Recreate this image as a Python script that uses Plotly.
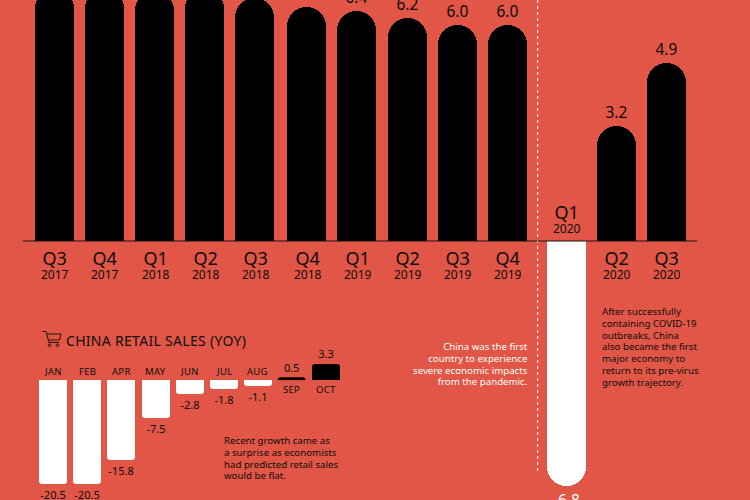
import plotly.graph_objects as go

W, H = 750, 500
BG = "#E15646"
INK = "#0d0d0d"
FONT = "Noto Sans"

# GDP growth, quarterly
quarters = ["Q3", "Q4", "Q1", "Q2", "Q3", "Q4", "Q1", "Q2", "Q3", "Q4", "Q1", "Q2", "Q3"]
years = ["2017", "2017", "2018", "2018", "2018", "2018", "2019", "2019", "2019", "2019", "2020", "2020", "2020"]
gdp = [7.0, 7.0, 6.95, 7.0, 6.75, 6.5, 6.4, 6.2, 6.0, 6.0, -6.8, 3.2, 4.95]
# Labels of the bars that run off the top of the page are not in the picture
gdp_labels = ["", "", "", "", "", "", "6.4", "6.2", "6.0", "6.0", "-6.8", "3.2", "4.9"]

# Retail sales, monthly
months = ["JAN", "FEB", "APR", "MAY", "JUN", "JUL", "AUG", "SEP", "OCT"]
retail = [-20.5, -20.5, -15.8, -7.5, -2.8, -1.8, -1.1, 0.5, 3.3]

title = "CHINA RETAIL SALES (YOY)"
note_left = ["China was the first", "country to experience", "severe economic impacts", "from the pandemic."]
note_right = ["After successfully", "containing COVID-19", "outbreaks, China", "also became the first",
              "major economy to", "return to its pre-virus", "growth trajectory."]
note_retail = ["Recent growth came as", "a surprise as economists", "had predicted retail sales", "would be flat."]

# layout helpers (pixel geometry of the page)
def px(x): return x / W
def py(y): return 1 - y / H

STEP, X0 = 50.1, 54.3
BASE, UNIT = 241, 36
STEP2, X02 = 34.07, 53.3
BASE2, UNIT2 = 380.3, 5.05
LINE = 11.75

# slots: the bars fall in three evenly spaced runs with small gaps between them
slots = [i + (0 if i < 5 else 0.04 if i < 10 else 0.215) for i in range(len(gdp))]
divider = (slots[9] + slots[10]) / 2 + 0.02

fig = go.Figure()
fig.add_trace(go.Bar(
    x=slots, y=gdp, width=39 / STEP, xaxis="x", yaxis="y",
    marker=dict(color=["#ffffff" if v < 0 else "#000000" for v in gdp], cornerradius=19.5, line_width=0),
    text=gdp_labels, textposition="outside", constraintext="none", cliponaxis=False,
    textfont=dict(family=FONT, size=15.5, color=["#ffffff" if v < 0 else INK for v in gdp]),
    hoverinfo="skip", showlegend=False))
fig.add_trace(go.Bar(
    x=list(range(len(months))), y=retail, width=28 / STEP2, xaxis="x2", yaxis="y2",
    marker=dict(color=["#ffffff" if v < 0 else "#000000" for v in retail], cornerradius=3,
                line=dict(color=["#000000" if v > 0 else "#ffffff" for v in retail],
                          width=[0.7 if 0 < v < 1 else 0 for v in retail])),
    text=[f"{v:g}" for v in retail], textposition="outside", constraintext="none", cliponaxis=False,
    textfont=dict(family=FONT, size=11, color=INK),
    hoverinfo="skip", showlegend=False))

ann = []
for s, q, yr, v in zip(slots, quarters, years, gdp):
    ann.append(dict(x=s, y=0, xref="x", yref="y", showarrow=False, yanchor="middle", xshift=1,
                    text=f'<span style="font-size:18px">{q}</span><br><span style="font-size:12px">{yr}</span>',
                    yshift=22.5 if v < 0 else -23, font=dict(family=FONT, size=11.15, color=INK)))
for i, (m, v) in enumerate(zip(months, retail)):
    ann.append(dict(x=i, y=0, xref="x2", yref="y2", text=f'<span style="letter-spacing:0.3px">{m}</span>', showarrow=False,
                    yanchor="middle", yshift=-9 if v > 0 else 8.6, font=dict(family=FONT, size=9.5, color=INK)))
ann.append(dict(x=px(63.5), y=py(340), xref="paper", yref="paper", xanchor="left", yanchor="middle", showarrow=False,
                text=f'<span style="letter-spacing:0.3px">{title}</span>', font=dict(family=FONT, size=14, color=INK)))

def add_note(lines, x, first_y, anchor, color):
    text = "<br>".join(f'<span style="font-size:9.7px">{t}</span>' for t in lines)
    ann.append(dict(x=px(x), y=py(first_y + (len(lines) - 1) * LINE / 2), xref="paper", yref="paper",
                    xanchor=anchor, yanchor="middle", align=anchor, showarrow=False, text=text,
                    font=dict(family=FONT, size=LINE / 1.3, color=color)))

add_note(note_left, 530, 346.7, "right", "#ffffff")
add_note(note_right, 599.7, 311.7, "left", INK)
add_note(note_retail, 221.7, 440, "left", INK)

shapes = [
    dict(type="line", xref="paper", yref="y", x0=px(23), x1=px(697), y0=0, y1=0, line=dict(color="#1a1210", width=1.2)),
    dict(type="line", xref="x", yref="paper", x0=divider, x1=divider, y0=py(0), y1=py(472),
         line=dict(color="#ffffff", width=1, dash="dot"), layer="below"),
]
# shopping cart icon
def P(x, y): return f"{px(x):.5f} {py(y):.5f}"
cart = [[(42.5, 331.5), (46, 331.5), (49, 342.5), (59, 342.5)],
        [(46.8, 334), (61, 334), (59.3, 340), (48.3, 340)]]
for line in cart:
    shapes.append(dict(type="path", xref="paper", yref="paper", line=dict(color=INK, width=0.9),
                       path="M" + " L".join(P(*p) for p in line)))
for cx in (49.5, 57.5):
    shapes.append(dict(type="circle", xref="paper", yref="paper", x0=px(cx - 1.3), x1=px(cx + 1.3),
                       y0=py(346.6), y1=py(344), line=dict(color=INK, width=0.9)))

axis = dict(visible=False, fixedrange=True)
fig.update_layout(
    width=W, height=H, margin=dict(l=0, r=0, t=0, b=0),
    paper_bgcolor=BG, plot_bgcolor=BG, showlegend=False, bargap=0,
    xaxis=dict(axis, domain=[0, 1], range=[-X0 / STEP, (W - X0) / STEP]),
    yaxis=dict(axis, domain=[0, 1], range=[-(H - BASE) / UNIT, BASE / UNIT]),
    xaxis2=dict(axis, domain=[0, 1], range=[-X02 / STEP2, (W - X02) / STEP2], anchor="y2", overlaying="x"),
    yaxis2=dict(axis, domain=[0, 1], range=[-(H - BASE2) / UNIT2, BASE2 / UNIT2], anchor="x2", overlaying="y"),
    annotations=ann, shapes=shapes,
)
fig.write_html("out.html", config={"displayModeBar": False},
               post_script="document.body.style.margin='0';document.body.style.background='%s';" % BG)
